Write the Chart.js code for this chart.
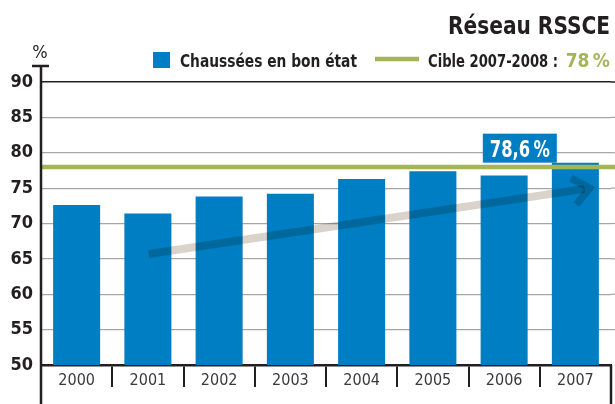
<!DOCTYPE html>
<html>
<head>
<meta charset="utf-8">
<script src="https://cdn.jsdelivr.net/npm/chart.js@4/dist/chart.umd.min.js"></script>
<style>
    html, body { margin: 0; padding: 0; background: #fff; }
    #wrap { width: 615px; height: 404px; position: relative; }
</style>
</head>
<body>
<div id="wrap"><canvas id="reseauChart"></canvas></div>
<script>
// Data
const years = ['2000', '2001', '2002', '2003', '2004', '2005', '2006', '2007'];
const etatValues = [72.6, 71.4, 73.8, 74.2, 76.3, 77.4, 76.8, 78.6];
const yTicks = [50, 55, 60, 65, 70, 75, 80, 85, 90];
const targetValue = 78;
const trendStart = [1.01, 65.7];   // [category index, %]
const trendEnd = [7.2, 75.0];
const calloutIndex = 6.22;
const calloutText = '78,6\u202f%';

const titleText = 'Réseau RSSCE';
const legendBarLabel = 'Chaussées en bon état';
const legendTargetLabel = 'Cible 2007-2008 :';
const legendTargetValue = '78\u202f%';

const BLUE = '#007ec4';
const GREEN = '#a4b556';
const INK = '#231f20';
const NARROW = "'Liberation Sans Narrow', 'DejaVu Sans Condensed', sans-serif";

// draw text squeezed to a given width (condensed look)
function fitText(ctx, text, x, y, width, align) {
    const w = ctx.measureText(text).width;
    const k = Math.min(1, width / w);
    ctx.save();
    ctx.textAlign = 'left';
    const left = align === 'right' ? x - w * k : align === 'center' ? x - w * k / 2 : x;
    ctx.translate(left, y);
    ctx.scale(k, 1);
    ctx.fillText(text, 0, 0);
    ctx.restore();
}

// Target line, trend arrow, callout, axis and legend
const decorPlugin = {
    id: 'decor',
    afterDatasetsDraw(chart) {
        const ctx = chart.ctx;
        const x = chart.scales.x, y = chart.scales.y;
        const area = chart.chartArea;

        ctx.save();
        // grid lines run on to the edge
        ctx.strokeStyle = '#a6a6a6';
        ctx.lineWidth = 1.2;
        yTicks.forEach(v => {
            if (v === 50 || v === 90) return;
            const py = y.getPixelForValue(v);
            ctx.beginPath();
            ctx.moveTo(area.right, py);
            ctx.lineTo(chart.width, py);
            ctx.stroke();
        });
        ctx.strokeStyle = INK;
        ctx.lineWidth = 1.5;
        ctx.beginPath();
        ctx.moveTo(area.right, area.top);
        ctx.lineTo(chart.width, area.top);
        ctx.stroke();

        // target line
        const ty = y.getPixelForValue(targetValue);
        ctx.strokeStyle = GREEN;
        ctx.lineWidth = 4.5;
        ctx.beginPath();
        ctx.moveTo(area.left, ty);
        ctx.lineTo(chart.width, ty);
        ctx.stroke();

        // trend arrow (multiplied over bars)
        const x0 = x.getPixelForValue(trendStart[0]), y0 = y.getPixelForValue(trendStart[1]);
        const x1 = x.getPixelForValue(trendEnd[0]), y1 = y.getPixelForValue(trendEnd[1]);
        const ang = Math.atan2(y1 - y0, x1 - x0);
        ctx.globalCompositeOperation = 'multiply';
        ctx.strokeStyle = '#d9d3cc';
        ctx.lineWidth = 8;
        ctx.beginPath();
        ctx.moveTo(x0, y0);
        ctx.lineTo(x1 - 5 * Math.cos(ang), y1 - 5 * Math.sin(ang));
        ctx.stroke();
        ctx.lineWidth = 7.5;
        const arm = 21;
        ctx.beginPath();
        ctx.moveTo(x1 + arm * Math.cos(ang - 2.5), y1 + arm * Math.sin(ang - 2.5));
        ctx.lineTo(x1, y1);
        ctx.lineTo(x1 + arm * Math.cos(ang + 2.4), y1 + arm * Math.sin(ang + 2.4));
        ctx.stroke();
        ctx.globalCompositeOperation = 'source-over';

        // callout box
        const cx = x.getPixelForValue(calloutIndex);
        const bottom = y.getPixelForValue(etatValues[etatValues.length - 1]);
        ctx.fillStyle = BLUE;
        ctx.fillRect(cx - 37, bottom - 29, 74, 29);
        ctx.fillStyle = '#fff';
        ctx.font = 'bold 23px ' + NARROW;
        ctx.textBaseline = 'alphabetic';
        fitText(ctx, calloutText, cx, bottom - 6, 60, 'center');
        ctx.restore();
    },
    afterDraw(chart) {
        const ctx = chart.ctx;
        const area = chart.chartArea;
        ctx.save();

        // y axis with cap, right closing line, "%" label
        ctx.strokeStyle = INK;
        ctx.lineWidth = 2.5;
        ctx.beginPath();
        ctx.moveTo(area.left, 66);
        ctx.lineTo(area.left, 404);
        ctx.moveTo(area.left - 9, 66);
        ctx.lineTo(area.left + 8, 66);
        ctx.moveTo(area.right, area.bottom);
        ctx.lineTo(area.right, 404);
        ctx.stroke();
        ctx.fillStyle = INK;
        ctx.font = '18px ' + NARROW;
        ctx.textAlign = 'center';
        ctx.textBaseline = 'middle';
        ctx.fillText('%', area.left - 1, 53);

        // title
        ctx.textBaseline = 'alphabetic';
        ctx.font = 'bold 25px ' + NARROW;
        fitText(ctx, titleText, 610, 34, 162, 'right');

        // legend
        ctx.fillStyle = BLUE;
        ctx.fillRect(153, 52, 17, 16);
        ctx.fillStyle = INK;
        ctx.font = 'bold 18px ' + NARROW;
        fitText(ctx, legendBarLabel, 180, 67, 177, 'left');
        ctx.strokeStyle = GREEN;
        ctx.lineWidth = 4.5;
        ctx.beginPath();
        ctx.moveTo(375, 59);
        ctx.lineTo(419, 59);
        ctx.stroke();
        fitText(ctx, legendTargetLabel, 428, 67, 130, 'left');
        ctx.fillStyle = GREEN;
        ctx.font = 'bold 19px ' + NARROW;
        fitText(ctx, legendTargetValue, 610, 67, 48, 'right');
        ctx.restore();
    }
};

new Chart(document.getElementById('reseauChart'), {
    type: 'bar',
    data: {
        labels: years,
        datasets: [{
            label: legendBarLabel,
            data: etatValues,
            backgroundColor: BLUE,
            borderWidth: 0,
            barPercentage: 0.66,
            categoryPercentage: 1
        }]
    },
    options: {
        responsive: true,
        maintainAspectRatio: false,
        animation: false,
        events: [],
        layout: {
            padding: { top: 82, right: 4, left: 0, bottom: 0 }
        },
        plugins: {
            legend: { display: false },
            tooltip: { enabled: false }
        },
        scales: {
            x: {
                afterFit: (scale) => { scale.height = 39; },
                grid: {
                    offset: true,
                    drawOnChartArea: false,
                    tickLength: 22,
                    color: INK,
                    lineWidth: 2
                },
                border: { display: true, color: INK, width: 2.5 },
                ticks: {
                    padding: -16,
                    color: '#3a3a3a',
                    font: { family: NARROW, size: 16 }
                }
            },
            y: {
                min: 50,
                max: 90,
                afterFit: (scale) => { scale.width = 41; },
                afterBuildTicks: (scale) => { scale.ticks = yTicks.map(v => ({ value: v })); },
                grid: {
                    drawTicks: false,
                    color: (c) => c.tick && c.tick.value === 90 ? INK : '#a6a6a6',
                    lineWidth: (c) => c.tick && c.tick.value === 90 ? 1.5 : 1.2
                },
                border: { display: false },
                ticks: {
                    padding: 8,
                    color: INK,
                    font: { family: NARROW, size: 18, weight: 'bold' }
                }
            }
        }
    },
    plugins: [decorPlugin]
});
</script>
</body>
</html>
